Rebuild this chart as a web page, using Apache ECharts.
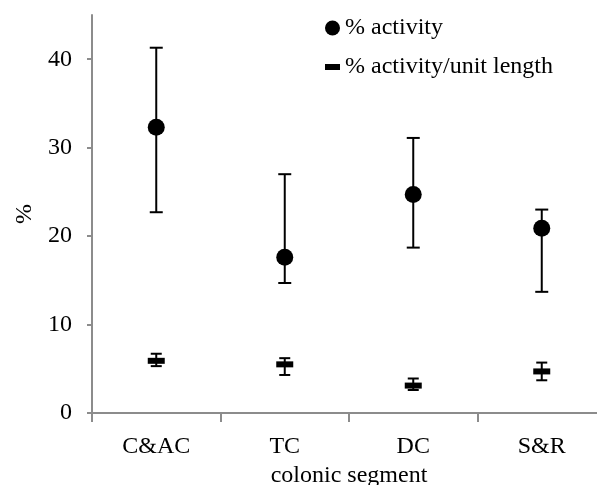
<!DOCTYPE html>
<html>
<head>
<meta charset="utf-8">
<script src="https://cdn.jsdelivr.net/npm/echarts@6/dist/echarts.min.js"></script>
<style>
  html, body { margin: 0; padding: 0; background: #fff; }
  #main { width: 597px; height: 485px; }
</style>
</head>
<body>
<div id="main"></div>
<script>
// 数据
var segments = ["C&AC", "TC", "DC", "S&R"];
var activity = [32.3, 17.6, 24.7, 20.9];
var activityLow = [22.7, 14.7, 18.7, 13.7];
var activityHigh = [41.3, 27.0, 31.1, 23.0];
var perLength = [5.9, 5.5, 3.1, 4.7];
var perLengthLow = [5.3, 4.3, 2.6, 3.7];
var perLengthHigh = [6.7, 6.2, 3.9, 5.7];
var yTicks = [0, 10, 20, 30, 40];

var font = "Liberation Serif";

// 误差线
function errorBars(low, high, capHalf) {
  return {
    type: "custom",
    z: 1,
    silent: true,
    data: segments.map(function (s, i) { return [i, low[i], high[i]]; }),
    renderItem: function (params, api) {
      var lo = api.coord([api.value(0), api.value(1)]);
      var hi = api.coord([api.value(0), api.value(2)]);
      var st = { stroke: "#000", lineWidth: 2 };
      return {
        type: "group",
        children: [
          { type: "line", shape: { x1: lo[0], y1: lo[1], x2: hi[0], y2: hi[1] }, style: st },
          { type: "line", shape: { x1: hi[0] - capHalf, y1: hi[1], x2: hi[0] + capHalf, y2: hi[1] }, style: st },
          { type: "line", shape: { x1: lo[0] - capHalf, y1: lo[1], x2: lo[0] + capHalf, y2: lo[1] }, style: st }
        ]
      };
    }
  };
}

var myChart = echarts.init(document.getElementById("main"));
myChart.setOption({
  animation: false,
  textStyle: { fontFamily: font },
  grid: { left: 92, top: 15, width: 514, height: 398, outerBoundsMode: "none", containLabel: false },
  legend: [
    {
      orient: "vertical",
      left: 320,
      top: 11,
      itemWidth: 15,
      itemHeight: 15,
      data: [{ name: "% activity", icon: "circle", itemStyle: { color: "#000", opacity: 1 } }],
      textStyle: { fontFamily: font, fontSize: 24, color: "#000" }
    },
    {
      orient: "vertical",
      left: 320,
      top: 50,
      itemWidth: 15,
      itemHeight: 6,
      data: [{ name: "% activity/unit length", icon: "rect", itemStyle: { color: "#000", opacity: 1 } }],
      textStyle: { fontFamily: font, fontSize: 24, color: "#000" }
    }
  ],
  xAxis: {
    type: "category",
    data: segments,
    boundaryGap: true,
    name: "colonic segment",
    nameLocation: "middle",
    nameGap: 48,
    nameTextStyle: { fontFamily: font, fontSize: 24, color: "#000" },
    axisLine: { lineStyle: { color: "#8c8c8c", width: 2 } },
    axisTick: { show: true, length: 9, lineStyle: { color: "#8c8c8c", width: 2 } },
    axisLabel: { margin: 22, fontFamily: font, fontSize: 24, color: "#000" },
    splitLine: { show: false }
  },
  yAxis: {
    type: "value",
    min: 0,
    max: 45,
    interval: 10,
    name: "%",
    nameLocation: "middle",
    nameGap: 52,
    nameRotate: 90,
    nameTextStyle: { fontFamily: font, fontSize: 24, color: "#000" },
    axisLine: { show: true, lineStyle: { color: "#8c8c8c", width: 2 } },
    axisTick: { show: true, length: 5, customValues: yTicks, lineStyle: { color: "#8c8c8c", width: 2 } },
    axisLabel: { margin: 20, customValues: yTicks, fontFamily: font, fontSize: 24, color: "#000" },
    splitLine: { show: false }
  },
  series: [
    errorBars(activityLow, activityHigh, 6.5),
    errorBars(perLengthLow, perLengthHigh, 5.5),
    {
      name: "% activity",
      type: "scatter",
      z: 3,
      symbol: "circle",
      symbolSize: 17,
      itemStyle: { color: "#000", opacity: 1 },
      data: activity
    },
    {
      name: "% activity/unit length",
      type: "scatter",
      z: 3,
      symbol: "rect",
      symbolSize: [17, 6],
      itemStyle: { color: "#000", opacity: 1 },
      data: perLength
    }
  ]
});
</script>
</body>
</html>
